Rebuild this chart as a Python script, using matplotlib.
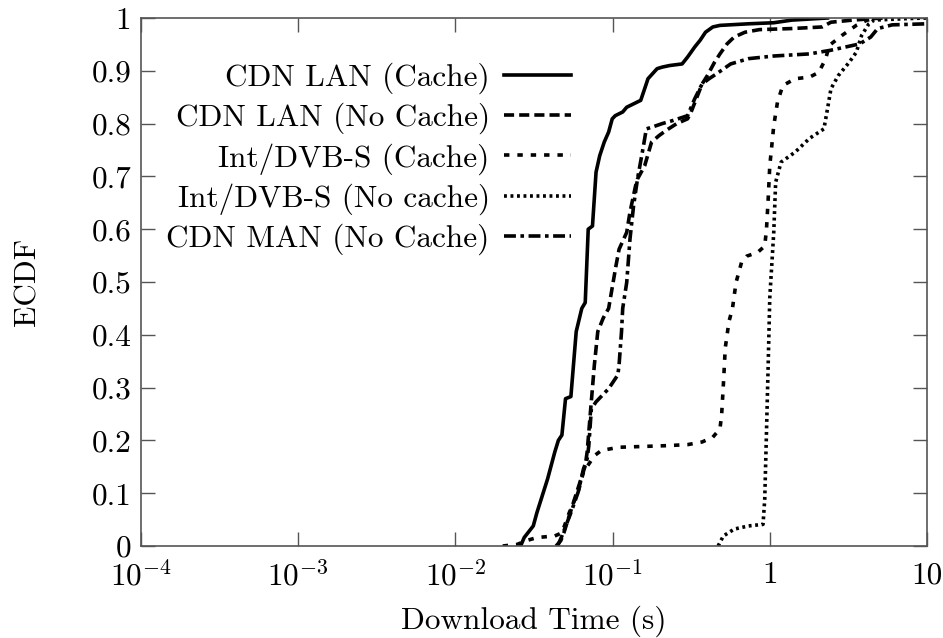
import matplotlib
matplotlib.use("Agg")
import matplotlib.pyplot as plt

# ECDF of download times for the different delivery setups
lan_cache_t = [0.0260, 0.0274, 0.0313, 0.0330, 0.0386, 0.0429, 0.0452, 0.0476, 0.0502, 0.0543,
               0.0587, 0.0637, 0.0670, 0.0700, 0.0745, 0.0785, 0.0828, 0.0885, 0.0944, 0.0995,
               0.104, 0.116, 0.123, 0.151, 0.160, 0.168, 0.192, 0.207, 0.231, 0.277,
               0.300, 0.333, 0.361, 0.390, 0.434, 0.482, 0.733, 1.06, 1.38, 2.33]
lan_cache_p = [0.0, 0.016, 0.038, 0.063, 0.127, 0.178, 0.200, 0.210, 0.279, 0.283,
               0.406, 0.450, 0.461, 0.600, 0.606, 0.708, 0.739, 0.765, 0.784, 0.809,
               0.815, 0.822, 0.831, 0.844, 0.866, 0.885, 0.904, 0.907, 0.910, 0.913,
               0.926, 0.945, 0.958, 0.973, 0.983, 0.986, 0.989, 0.991, 0.996, 1.0]

lan_nocache_t = [0.0437, 0.0468, 0.0490, 0.0530, 0.0573, 0.0619, 0.0670, 0.0689, 0.0706, 0.0726,
                 0.0766, 0.0805, 0.0873, 0.0944, 0.105, 0.110, 0.123, 0.129, 0.140, 0.144,
                 0.160, 0.177, 0.197, 0.219, 0.256, 0.300, 0.316, 0.371, 0.401, 0.445,
                 0.482, 0.535, 0.594, 0.695, 0.859, 1.38, 2.15, 2.45, 3.37, 5.13]
lan_nocache_p = [0.0, 0.010, 0.025, 0.057, 0.089, 0.120, 0.152, 0.178, 0.216, 0.260,
                 0.343, 0.406, 0.432, 0.450, 0.530, 0.562, 0.594, 0.632, 0.682, 0.695,
                 0.720, 0.765, 0.777, 0.787, 0.800, 0.809, 0.822, 0.875, 0.891, 0.916,
                 0.932, 0.951, 0.964, 0.973, 0.978, 0.980, 0.983, 0.992, 0.996, 1.0]

sat_cache_t = [0.0200, 0.0247, 0.0282, 0.0330, 0.0429, 0.0476, 0.0530, 0.0604, 0.0653, 0.0766,
               0.0849, 0.110, 0.219, 0.300, 0.371, 0.434, 0.482, 0.494, 0.508, 0.521,
               0.550, 0.579, 0.610, 0.661, 0.714, 0.836, 0.929, 0.953, 0.977, 1.00,
               1.03, 1.06, 1.12, 1.21, 1.45, 1.79, 2.05, 2.27, 2.39, 2.88,
               3.55, 4.16, 5.25]
sat_cache_p = [0.0, 0.003, 0.010, 0.016, 0.019, 0.025, 0.063, 0.102, 0.140, 0.171,
               0.181, 0.187, 0.190, 0.192, 0.197, 0.206, 0.222, 0.248, 0.311, 0.375,
               0.425, 0.450, 0.499, 0.537, 0.549, 0.556, 0.568, 0.600, 0.657, 0.720,
               0.758, 0.796, 0.841, 0.872, 0.885, 0.888, 0.897, 0.923, 0.948, 0.967,
               0.986, 0.996, 1.0]

sat_nocache_t = [0.469, 0.507, 0.594, 0.733, 0.906, 0.929, 0.953, 0.977, 1.00, 1.06,
                 1.09, 1.18, 1.45, 1.79, 2.21, 2.33, 2.45, 2.73, 3.20, 3.55,
                 3.84, 4.27, 4.61, 7.76, 10.0]
sat_nocache_p = [0.0, 0.019, 0.032, 0.038, 0.041, 0.089, 0.216, 0.343, 0.470, 0.594,
                 0.689, 0.727, 0.746, 0.772, 0.790, 0.828, 0.866, 0.891, 0.916, 0.935,
                 0.967, 0.989, 0.996, 0.999, 1.0]

man_nocache_t = [0.0447, 0.0476, 0.0543, 0.0604, 0.0653, 0.0689, 0.0706, 0.0733, 0.0785, 0.0944,
                 0.108, 0.110, 0.114, 0.116, 0.123, 0.129, 0.136, 0.144, 0.156, 0.164,
                 0.177, 0.207, 0.243, 0.300, 0.333, 0.371, 0.411, 0.457, 0.564, 0.733,
                 1.06, 1.79, 2.45, 3.03, 3.74, 4.39, 4.86, 6.01, 10.0]
man_nocache_p = [0.0, 0.019, 0.063, 0.102, 0.146, 0.165, 0.190, 0.260, 0.273, 0.298,
                 0.324, 0.343, 0.406, 0.450, 0.499, 0.581, 0.644, 0.695, 0.752, 0.790,
                 0.793, 0.800, 0.806, 0.815, 0.847, 0.875, 0.885, 0.894, 0.913, 0.923,
                 0.928, 0.932, 0.939, 0.945, 0.951, 0.964, 0.980, 0.987, 0.989]

xticks = [1e-4, 1e-3, 1e-2, 1e-1, 1, 10]
xtick_labels = [r"$10^{-4}$", r"$10^{-3}$", r"$10^{-2}$", r"$10^{-1}$", "1", "10"]
yticks = [0, 0.1, 0.2, 0.3, 0.4, 0.5, 0.6, 0.7, 0.8, 0.9, 1]
ytick_labels = ["0", "0.1", "0.2", "0.3", "0.4", "0.5", "0.6", "0.7", "0.8", "0.9", "1"]

fs = 22.5
plt.rcParams["font.family"] = "cmr10"
plt.rcParams["mathtext.fontset"] = "cm"
plt.rcParams["axes.unicode_minus"] = False
plt.rcParams["font.size"] = fs

fig = plt.figure(figsize=(9.43, 6.38), dpi=100)
ax = fig.add_axes([0.1495, 0.1442, 0.8335, 0.8276])

lw = 2.6
ax.plot(lan_cache_t, lan_cache_p, color="black", lw=lw, ls="-", label="CDN LAN (Cache)")
ax.plot(lan_nocache_t, lan_nocache_p, color="black", lw=lw, ls=(0, (2.8, 1.4)),
        label="CDN LAN (No Cache)")
ax.plot(sat_cache_t, sat_cache_p, color="black", lw=lw, ls=(0, (1.5, 2.2)),
        label="Int/DVB-S (Cache)")
ax.plot(sat_nocache_t, sat_nocache_p, color="black", lw=lw, ls=(0, (0.8, 1.0)),
        label="Int/DVB-S (No cache)")
ax.plot(man_nocache_t, man_nocache_p, color="black", lw=lw, ls=(0, (3.3, 1.25, 1.0, 1.25)),
        label="CDN MAN (No Cache)")

ax.set_xscale("log")
ax.set_xlim(1e-4, 10)
ax.set_ylim(0, 1)
ax.set_xticks(xticks)
ax.set_xticklabels(xtick_labels)
ax.set_yticks(yticks)
ax.set_yticklabels(ytick_labels)
ax.minorticks_off()
ax.tick_params(direction="in", length=10, width=1, color="#555555",
               top=True, right=True, labelsize=fs)
ax.tick_params(axis="y", pad=7)
ax.tick_params(axis="x", pad=11)

for s in ax.spines.values():
    s.set_color("#555555")
    s.set_linewidth(1.2)

ax.set_xlabel("Download Time (s)", fontsize=fs, labelpad=9)
ax.set_ylabel("ECDF", fontsize=fs, labelpad=36)

ax.legend(loc="upper right", bbox_to_anchor=(0.547, 0.916), frameon=False,
          markerfirst=False, handlelength=2.15, handletextpad=0.45,
          labelspacing=0.28, borderpad=0, borderaxespad=0, fontsize=fs)

fig.savefig("out.png", dpi=100)
